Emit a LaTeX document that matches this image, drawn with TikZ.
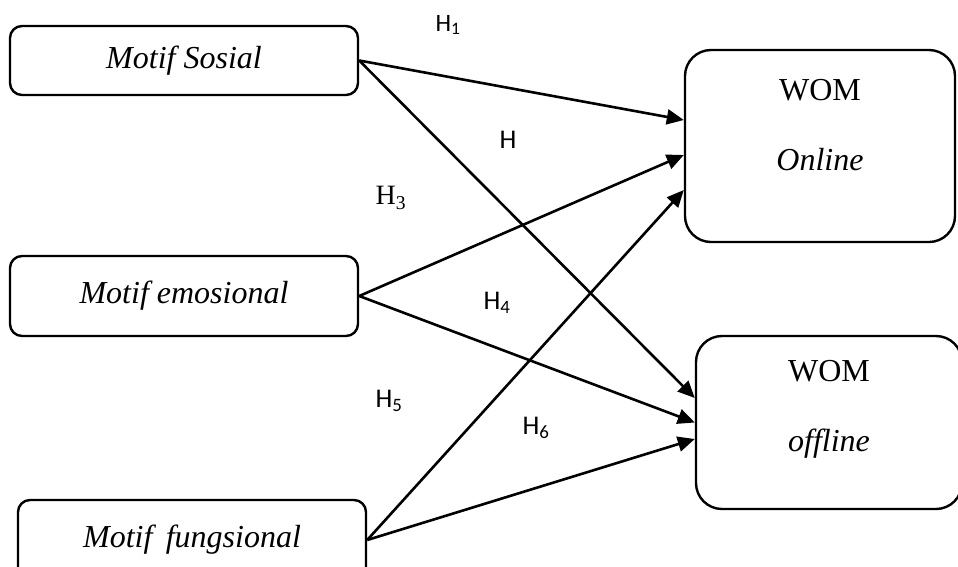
\documentclass[tikz,border=0pt]{standalone}
\usepackage{fontspec}
\setmainfont{Liberation Serif}
\newfontfamily\calibri{Carlito}
\usetikzlibrary{arrows.meta}

\begin{document}
\begin{tikzpicture}[x=1pt,y=-1pt]

\tikzstyle{motif}=[draw, line width=2.4pt, rounded corners=12pt, minimum width=348pt, font=\fontsize{32}{38}\selectfont\itshape]
\tikzstyle{wom}=[draw, line width=2.4pt, rounded corners=26pt]
\tikzstyle{womtext}=[align=center, font=\fontsize{32}{38}\selectfont]
\tikzstyle{hyp}=[font=\fontsize{27}{31}\selectfont\calibri]
\tikzstyle{link}=[line width=2.6pt, -{Triangle[length=17pt,width=15pt]}]

\useasboundingbox (0,0) rectangle (958,566);

% motif boxes (left)
\node[motif, minimum height=69pt] (sosial) at (184,60.5) {Motif Sosial};
\node[motif, minimum height=80pt] (emosional) at (184,296) {Motif emosional};
\node[motif, minimum height=80pt] (fungsional) at (192,540) {Motif\ \,fungsional};

% WOM boxes (right)
\node[wom, minimum width=270pt, minimum height=192pt] (online) at (820,146) {};
\node[womtext] (onlinetxt) at ([yshift=21pt]online.center) {WOM\\[32pt]\textit{Online}};
\node[wom, minimum width=266pt, minimum height=173pt] (offline) at (829,422.5) {};
\node[womtext] (offlinetxt) at ([yshift=13pt]offline.center) {WOM\\[32pt]\textit{offline}};

% paths
\draw[link] (sosial.east) -- ([yshift=26pt]online.west);
\draw[link] (sosial.east) -- ([yshift=24.5pt]offline.west);
\draw[link] (emosional.east) -- ([yshift=-9pt]online.west);
\draw[link] (emosional.east) -- (offline.west);
\draw[link] (fungsional.east) -- ([yshift=-44pt]online.west);
\draw[link] (fungsional.east) -- ([yshift=-16.5pt]offline.west);

% hypotheses
\node[hyp, font=\fontsize{25}{29}\selectfont\calibri] (h1) at (448,25) {H\textsubscript{1}};
\node[hyp] (h2) at (508,140) {H};
\node[font=\fontsize{28}{32}\selectfont] (h3) at (391,198) {H\textsubscript{3}};
\node[hyp] (h4) at (497,303) {H\textsubscript{4}};
\node[hyp] (h5) at (389,401) {H\textsubscript{5}};
\node[hyp] (h6) at (536,428) {H\textsubscript{6}};

\end{tikzpicture}
\end{document}
